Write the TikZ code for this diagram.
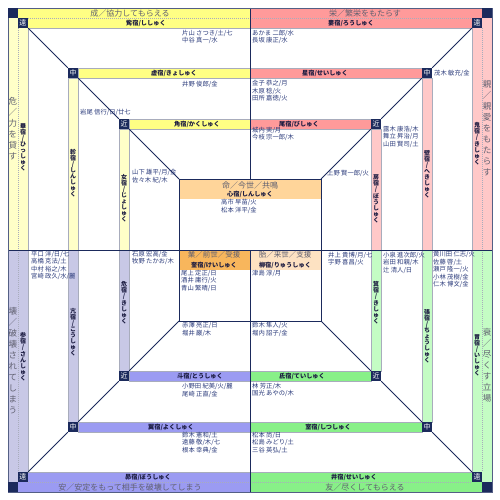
\documentclass[tikz,border=0pt]{standalone}
\usepackage{fontspec}
\setmainfont{Noto Sans CJK JP}
\definecolor{navy}{HTML}{1B2A5C}
\definecolor{ylwA}{HTML}{FFFF84}
\definecolor{ylwB}{HTML}{FFFFC8}
\definecolor{redA}{HTML}{FF9A9A}
\definecolor{redB}{HTML}{FFC8C8}
\definecolor{bluA}{HTML}{9B9BF2}
\definecolor{bluB}{HTML}{C8C8E6}
\definecolor{grnA}{HTML}{88F088}
\definecolor{grnB}{HTML}{C4FCC4}
\definecolor{oraMei}{HTML}{FFD59A}
\definecolor{oraGyo}{HTML}{F8B65C}
\definecolor{oraTai}{HTML}{FDE2C2}
\definecolor{bandline}{HTML}{A8ACBC}
\definecolor{nametext}{HTML}{2B3B7B}
\definecolor{labeltext}{HTML}{1A1A40}
\definecolor{titletext}{HTML}{606070}
\tikzset{
  bandbox/.style={draw=bandline, line width=0.5pt},
  lbl/.style={fill=navy, text=white, minimum size=10pt, inner sep=0pt, font=\fontsize{7}{7}\selectfont},
  bl/.style={font=\bfseries\fontsize{6.2}{6.2}\selectfont, text=labeltext, inner sep=0pt},
  vbl/.style={bl, align=center, font=\bfseries\fontsize{6}{6}\selectfont},
  ttl/.style={font=\fontsize{8}{8}\selectfont, text=titletext, inner sep=0pt},
  vttl/.style={font=\fontsize{8.5}{11}\selectfont, text=titletext, inner sep=0pt, align=center},
  nm/.style={font=\fontsize{6.3}{7.5}\selectfont, text=nametext, inner sep=0pt, anchor=north west, align=left},
  diag/.style={navy, line width=0.8pt},
  dsh/.style={draw=bandline, dash pattern=on 1pt off 1pt, line width=0.4pt},
  navyline/.style={navy, line width=0.9pt}
}
\begin{document}
\begin{tikzpicture}[x=1pt,y=-1pt]
\fill[white] (0,0) rectangle (500,500);
\useasboundingbox (0,0) rectangle (500,500);
% ---------- title and far bands (fill only)
\fill[ylwA] (18,8) rectangle (250,28);
\fill[ylwB] (8,18) rectangle (28,250);
\fill[redA] (250,8) rectangle (482,28);
\fill[redB] (472,18) rectangle (492,250);
\fill[bluA] (18,472) rectangle (250,492);
\fill[bluB] (8,250) rectangle (28,482);
\fill[grnA] (250,472) rectangle (482,492);
\fill[grnB] (472,250) rectangle (492,482);
% dashed separators
\draw[dsh] (28,18) -- (472,18);
\draw[dsh] (28,482) -- (472,482);
\draw[dsh] (18,28) -- (18,472);
\draw[dsh] (482,28) -- (482,472);
% inner edges of far ring
\draw[bandline, line width=0.5pt] (28,28) -- (472,28) -- (472,472) -- (28,472) -- cycle;
% ---------- middle and near bands
\filldraw[bandbox, fill=ylwA] (78,68) rectangle (250,78);
\filldraw[bandbox, fill=ylwA] (129,119) rectangle (250,129);
\filldraw[bandbox, fill=ylwB] (68,78) rectangle (78,250);
\filldraw[bandbox, fill=ylwB] (119,129) rectangle (129,250);
\filldraw[bandbox, fill=redA] (250,68) rectangle (422,78);
\filldraw[bandbox, fill=redA] (250,119) rectangle (371,129);
\filldraw[bandbox, fill=redB] (422,78) rectangle (432,250);
\filldraw[bandbox, fill=redB] (371,129) rectangle (381,250);
\filldraw[bandbox, fill=bluA] (78,422) rectangle (250,432);
\filldraw[bandbox, fill=bluA] (129,371) rectangle (250,381);
\filldraw[bandbox, fill=bluB] (68,250) rectangle (78,422);
\filldraw[bandbox, fill=bluB] (119,250) rectangle (129,371);
\filldraw[bandbox, fill=grnA] (250,422) rectangle (422,432);
\filldraw[bandbox, fill=grnA] (250,371) rectangle (371,381);
\filldraw[bandbox, fill=grnB] (422,250) rectangle (432,422);
\filldraw[bandbox, fill=grnB] (371,250) rectangle (381,371);
% ---------- centre
\fill[oraMei] (179,179) rectangle (321,199);
\fill[oraGyo] (179,250) rectangle (250,270);
\fill[oraTai] (250,250) rectangle (321,270);
\coordinate (C1) at (179,179);
\coordinate (C2) at (321,179);
\coordinate (C3) at (179,321);
\coordinate (C4) at (321,321);
\draw[navyline] (C1) rectangle (C4);
\draw[navyline] (179,250) -- (321,250);
\draw[navyline] (250,250) -- (250,321);
% quadrant lines
\draw[navyline] (250,8) -- (250,179);
\draw[navyline] (250,321) -- (250,492);
\draw[navyline] (8,250) -- (179,250);
\draw[navyline] (321,250) -- (492,250);
% outer border and corner squares
\draw[navy!75, line width=0.8pt] (8,8) rectangle (492,492);
\fill[navy] (8,8) rectangle (18,18);
\fill[navy] (482,8) rectangle (492,18);
\fill[navy] (8,482) rectangle (18,492);
\fill[navy] (482,482) rectangle (492,492);
% ---------- distance markers
\node[lbl] (F1) at (23,23) {遠};
\node[lbl] (F2) at (477,23) {遠};
\node[lbl] (F3) at (23,477) {遠};
\node[lbl] (F4) at (477,477) {遠};
\node[lbl] (M1) at (73,73) {中};
\node[lbl] (M2) at (427,73) {中};
\node[lbl] (M3) at (73,427) {中};
\node[lbl] (M4) at (427,427) {中};
\node[lbl] (N1) at (124,124) {近};
\node[lbl] (N2) at (376,124) {近};
\node[lbl] (N3) at (124,376) {近};
\node[lbl] (N4) at (376,376) {近};
\draw[diag] (F1.south east) -- (M1.north west);
\draw[diag] (M1.south east) -- (N1.north west);
\draw[diag] (N1.south east) -- (C1);
\draw[diag] (F2.south west) -- (M2.north east);
\draw[diag] (M2.south west) -- (N2.north east);
\draw[diag] (N2.south west) -- (C2);
\draw[diag] (F3.north east) -- (M3.south west);
\draw[diag] (M3.north east) -- (N3.south west);
\draw[diag] (N3.north east) -- (C3);
\draw[diag] (F4.north west) -- (M4.south east);
\draw[diag] (M4.north west) -- (N4.south east);
\draw[diag] (N4.north west) -- (C4);
% ---------- titles
\node[ttl] (t1) at (130,13) {成／協力してもらえる};
\node[ttl] (t2) at (365,13) {栄／繁栄をもたらす};
\node[ttl] (t3) at (130,487) {安／安定をもって相手を破壊してしまう};
\node[ttl] (t4) at (365,487) {友／尽くしてもらえる};
\node[vttl] (t5) at (13,129) {危\\／\\力\\を\\貸\\す};
\node[vttl] (t6) at (487,128) {親\\／\\親\\愛\\を\\も\\た\\ら\\す};
\node[vttl] (t7) at (13,361) {壊\\／\\破\\壊\\さ\\れ\\て\\し\\ま\\う};
\node[vttl] (t8) at (487,365) {衰\\／\\尽\\く\\す\\立\\場};
% ---------- horizontal band labels
\node[bl] (b1) at (146,23) {觜宿/ししゅく};
\node[bl] (b2) at (174,73) {虚宿/きょしゅく};
\node[bl] (b3) at (197,124) {角宿/かくしゅく};
\node[bl] (b4) at (351,23) {婁宿/ろうしゅく};
\node[bl] (b5) at (325,73) {星宿/せいしゅく};
\node[bl] (b6) at (299,124) {尾宿/びしゅく};
\node[bl] (b7) at (148,477) {昴宿/ぼうしゅく};
\node[bl] (b8) at (171,427) {翼宿/よくしゅく};
\node[bl] (b9) at (200,376) {斗宿/とうしゅく};
\node[bl] (b10) at (354,477) {井宿/せいしゅく};
\node[bl] (b11) at (328,427) {室宿/しつしゅく};
\node[bl] (b12) at (302,376) {氐宿/ていしゅく};
% ---------- vertical band labels
\node[vbl] (v1) at (23,147) {畢\\宿\\/\\ひ\\っ\\し\\ゅ\\く};
\node[vbl] (v2) at (73,173) {軫\\宿\\/\\し\\ん\\し\\ゅ\\く};
\node[vbl] (v3) at (124,198) {女\\宿\\/\\じ\\ょ\\し\\ゅ\\く};
\node[vbl] (v4) at (477,144) {鬼\\宿\\/\\き\\し\\ゅ\\く};
\node[vbl] (v5) at (427,174) {壁\\宿\\/\\へ\\き\\し\\ゅ\\く};
\node[vbl] (v6) at (376,199) {房\\宿\\/\\ぼ\\う\\し\\ゅ\\く};
\node[vbl] (v7) at (23,357) {参\\宿\\/\\さ\\ん\\し\\ゅ\\く};
\node[vbl] (v8) at (73,332) {亢\\宿\\/\\こ\\う\\し\\ゅ\\く};
\node[vbl] (v9) at (124,303) {危\\宿\\/\\き\\し\\ゅ\\く};
\node[vbl] (v10) at (477,355) {胃\\宿\\/\\い\\し\\ゅ\\く};
\node[vbl] (v11) at (427,336) {張\\宿\\/\\ち\\ょ\\う\\し\\ゅ\\く};
\node[vbl] (v12) at (376,303) {箕\\宿\\/\\き\\し\\ゅ\\く};
% ---------- centre texts
\node[ttl] (c1) at (250,185) {命／今世／共鳴};
\node[bl] (c2) at (250,194) {心宿/しんしゅく};
\node[ttl, font=\fontsize{7.5}{7.5}\selectfont] (c3) at (214,255) {業／前世／受援};
\node[bl] (c4) at (214,265) {奎宿/けいしゅく};
\node[ttl, font=\fontsize{7.5}{7.5}\selectfont] (c5) at (285,255) {胎／来世／支援};
\node[bl] (c6) at (285,265) {柳宿/りゅうしゅく};
% ---------- names
\node[nm] (n1) at (182,30) {片山 さつき/土/七\\中谷 真一/水};
\node[nm] (n2) at (182,80.5) {井野 俊郎/金};
\node[nm] (n3) at (80,109.5) {岩尾 信行/日/廿七};
\node[nm] (n4) at (132,169.5) {山下 雄平/月/金\\佐々木 紀/木};
\node[nm] (n5) at (221,199) {高市 早苗/火\\松本 洋平/金};
\node[nm] (n6) at (252,30) {あかま 二郎/水\\長坂 康正/水};
\node[nm] (n7) at (434,70) {茂木 敏充/金};
\node[nm] (n8) at (252,80) {金子 恭之/月\\木原 稔/火\\田所 嘉徳/火};
\node[nm] (n9) at (252,127) {城内 実/月\\今枝 宗一郎/木};
\node[nm] (n10) at (383,126) {露木 康浩/木\\舞立 昇治/月\\山田 賢司/土};
\node[nm] (n11) at (327,170) {上野 賢一郎/火};
\node[nm] (n12) at (31,250.5) {平口 洋/日/七\\高橋 克法/土\\中村 裕之/木\\宮崎 政久/水/麗};
\node[nm] (n13) at (132,250.5) {石原 宏高/金\\牧野 たかお/木};
\node[nm] (n14) at (181,270) {尾上 定正/日\\酒井 庸行/火\\青山 繁晴/日};
\node[nm] (n15) at (252,270) {津島 淳/月};
\node[nm] (n16) at (182,322) {赤澤 亮正/日\\堀井 巌/木};
\node[nm] (n17) at (328,251.5) {井上 貴博/月/七\\宇野 喜昌/火};
\node[nm] (n18) at (383,251.5) {小泉 進次郎/火\\岩田 和親/木\\辻 清人/日};
\node[nm] (n19) at (433,251.5) {黄川田 仁志/火\\佐藤 啓/土\\瀬戸 隆一/火\\小林 茂樹/金\\仁木 博文/金};
\node[nm] (n20) at (252,322) {鈴木 隼人/火\\堀内 詔子/金};
\node[nm] (n21) at (182,383) {小野田 紀美/火/麗\\尾崎 正直/金};
\node[nm] (n22) at (182,432) {鈴木 憲和/土\\遠藤 敬/木/七\\根本 幸典/金};
\node[nm] (n23) at (252,382.5) {林 芳正/木\\国光 あやの/木};
\node[nm] (n24) at (252,432) {松本 尚/日\\松島 みどり/土\\三谷 英弘/土};
\end{tikzpicture}
\end{document}
